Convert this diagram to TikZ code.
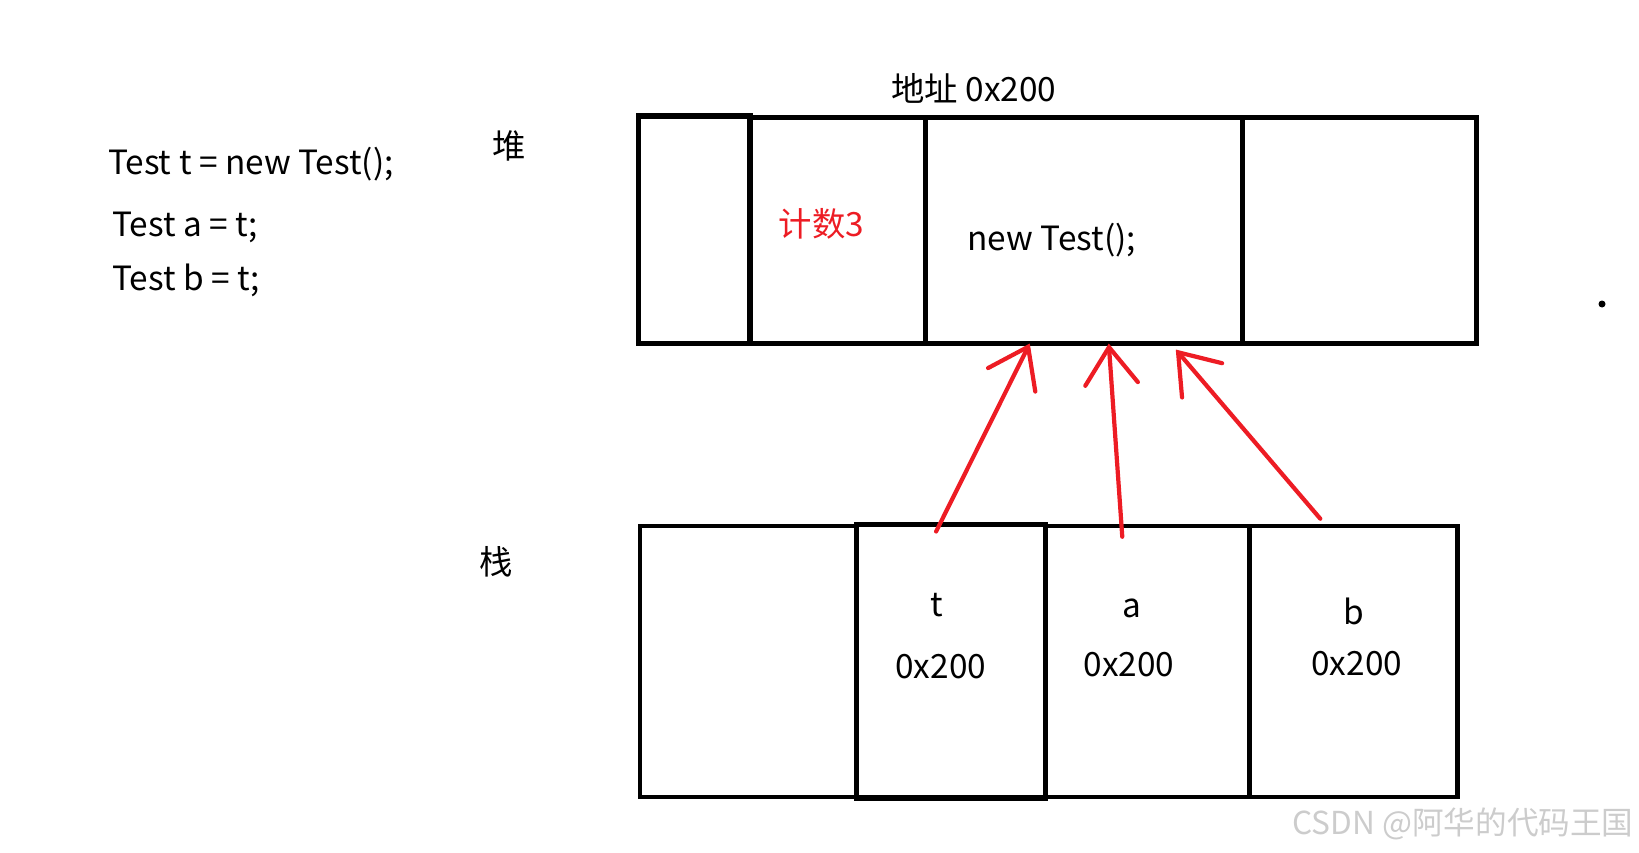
\documentclass[tikz,border=0pt]{standalone}
\usepackage{fontspec}
\setmainfont{Noto Sans CJK SC}
\usetikzlibrary{arrows.meta, calc}
\definecolor{paintred}{RGB}{237,28,36}

\begin{document}
\begin{tikzpicture}[x=0.02cm,y=-0.02cm]
 \tikzstyle{cell}=[rectangle,draw=black,line width=2.6pt,inner sep=0pt,
   anchor=north west]
 \tikzstyle{code}=[font=\fontsize{19}{22}\selectfont,inner sep=0pt]
 \tikzstyle{ref}=[draw=paintred,line width=2.4pt,line cap=round,
   -{Straight Barb[length=21pt,width=30pt,line cap=round]}]
 \useasboundingbox (0,0) rectangle (1639,852);
 % heap
 \node (h0) [cell,line width=3.2pt,minimum width=2.24cm,minimum height=4.56cm] at (635.6,112.9) {};
 \node (cnt) [cell,minimum width=3.52cm,minimum height=4.52cm] at (747.4,115) {};
 \node (obj) [cell,minimum width=6.34cm,minimum height=4.52cm] at (923,115) {};
 \node (h3) [cell,minimum width=4.68cm,minimum height=4.52cm] at (1240,115) {};
 % stack
 \node (s0) [cell,minimum width=4.33cm,minimum height=5.42cm] at (637.6,523.7) {};
 \node (t) [cell,line width=3pt,minimum width=3.78cm,minimum height=5.48cm] at (854,521.5) {};
 \node (a) [cell,minimum width=4.08cm,minimum height=5.42cm] at (1043,523.7) {};
 \node (b) [cell,minimum width=4.16cm,minimum height=5.42cm] at (1247,523.7) {};
 % texts
 \node (addr) [code] at (974,88) {地址 0x200};
 \node (heap) [code] at (509,146) {堆};
 \node (stack) [code] at (496.5,562) {栈};
 \node (l1) [code,anchor=west] at (107.7,164) {Test t = new Test();};
 \node (l2) [code,anchor=west] at (111.8,227) {Test a = t;};
 \node (l3) [code,anchor=west] at (111.8,280) {Test b = t;};
 \node (num) [code,text=paintred] at (821.6,223.7) {计数3};
 \node (new) [code] at (1051.6,240.4) {new Test();};
 \node (tn) [code] at (936.6,605) {t};
 \node (tv) [code] at (940.8,667) {0x200};
 \node (an) [code] at (1132,608) {a};
 \node (av) [code] at (1129,665) {0x200};
 \node (bn) [code] at (1353.7,611.5) {b};
 \node (bv) [code] at (1356.8,663.8) {0x200};
 \fill (1602,304) circle (3.5);
 \node (mark) [text=gray!40,font=\fontsize{18}{20}\selectfont,inner sep=0pt] at (1463,823.7) {CSDN @阿华的代码王国};
 % references
 \draw[ref] ($(t.north)+(-15,10)$) -- ($(obj.south)+(-54,-2)$);
 \draw[ref] ($(a.north)+(-25,13)$) -- ($(obj.south)+(25,-2)$);
 \draw[ref] ($(b.north)+(-33,-5)$) -- ($(obj.south)+(92,4)$);
\end{tikzpicture}
\end{document}
